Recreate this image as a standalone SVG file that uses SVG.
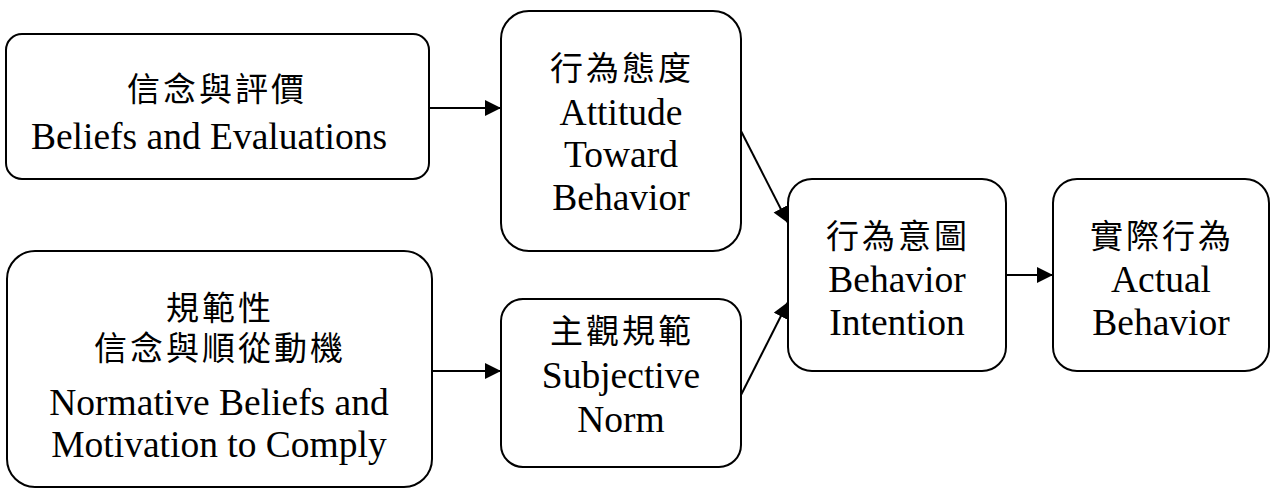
<svg xmlns="http://www.w3.org/2000/svg" width="1271" height="489" viewBox="0 0 1271 489">
<style>
.box{fill:#fff;stroke:#000;stroke-width:2}
.en{font-family:"Liberation Serif","Times New Roman",serif;font-size:37.5px;fill:#000;text-anchor:middle}
.zh{font-family:"Liberation Serif","Noto Sans CJK TC",serif;font-size:33px;letter-spacing:3px;fill:#000;text-anchor:middle}
.conn{stroke:#000;stroke-width:2;fill:none;marker-end:url(#arr)}
</style>
<defs>
<marker id="arr" markerUnits="userSpaceOnUse" markerWidth="18" markerHeight="18" refX="16" refY="8" orient="auto">
<path d="M0,0 L16,8 L0,16 z" fill="#000"/>
</marker>
</defs>
<rect width="1271" height="489" fill="#fff"/>
<g id="connectors">
<line class="conn" x1="430" y1="108" x2="501" y2="108"/>
<line class="conn" x1="432" y1="371" x2="501" y2="371"/>
<line class="conn" x1="1006" y1="275" x2="1053" y2="275"/>
<line class="conn" x1="741" y1="131" x2="788" y2="223"/>
<line class="conn" x1="741" y1="395" x2="788" y2="302"/>
</g>
<g id="beliefs">
<rect class="box" x="6" y="34" width="423" height="145" rx="16"/>
<text class="zh" x="217" y="101">信念與評價</text>
<text class="en" x="209" y="149">Beliefs and Evaluations</text>
</g>
<g id="attitude">
<rect class="box" x="501" y="11" width="240" height="240" rx="28"/>
<text class="zh" x="622" y="80">行為態度</text>
<text class="en" x="621" y="125">Attitude</text>
<text class="en" x="621" y="167">Toward</text>
<text class="en" x="621" y="210">Behavior</text>
</g>
<g id="normative">
<rect class="box" x="7" y="251" width="425" height="236" rx="28"/>
<text class="zh" x="220" y="320">規範性</text>
<text class="zh" x="220" y="360">信念與順從動機</text>
<text class="en" x="219" y="415">Normative Beliefs and</text>
<text class="en" x="219" y="457">Motivation to Comply</text>
</g>
<g id="subjective">
<rect class="box" x="501" y="299" width="240" height="168" rx="22"/>
<text class="zh" x="622" y="343">主觀規範</text>
<text class="en" x="621" y="388">Subjective</text>
<text class="en" x="621" y="432">Norm</text>
</g>
<g id="intention">
<rect class="box" x="788" y="179" width="218" height="192" rx="24"/>
<text class="zh" x="898" y="248">行為意圖</text>
<text class="en" x="897" y="292">Behavior</text>
<text class="en" x="897" y="335">Intention</text>
</g>
<g id="actual">
<rect class="box" x="1053" y="179" width="216" height="192" rx="24"/>
<text class="zh" x="1162" y="248">實際行為</text>
<text class="en" x="1161" y="292">Actual</text>
<text class="en" x="1161" y="335">Behavior</text>
</g>
</svg>
